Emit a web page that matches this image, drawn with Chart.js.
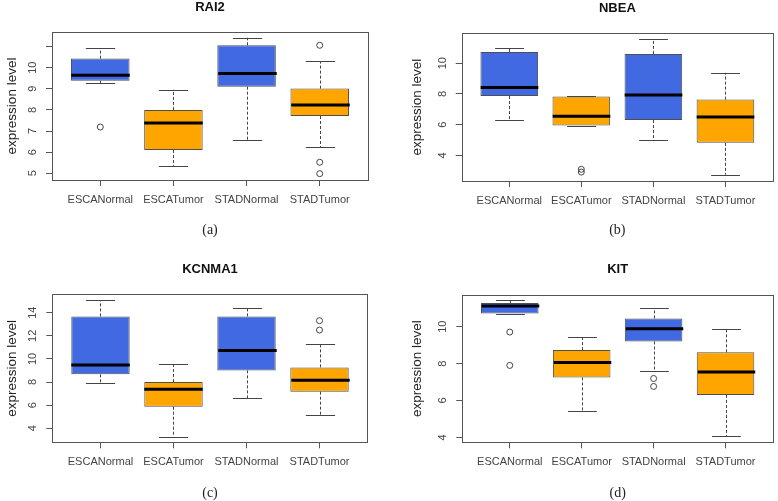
<!DOCTYPE html>
<html>
<head>
<meta charset="utf-8">
<script src="https://cdn.jsdelivr.net/npm/chart.js@4/dist/chart.umd.min.js"></script>
<style>
  body { margin: 0; background: #fff; }
  #wrap { position: relative; width: 778px; height: 501px; }
  canvas { position: absolute; }
</style>
</head>
<body>
<div id="wrap">
  <canvas id="chartA" width="389" height="250" style="left:0;top:0"></canvas>
  <canvas id="chartB" width="389" height="250" style="left:389px;top:0"></canvas>
  <canvas id="chartC" width="389" height="251" style="left:0;top:250px"></canvas>
  <canvas id="chartD" width="389" height="251" style="left:389px;top:250px"></canvas>
</div>
<script>
var categories = ['ESCANormal', 'ESCATumor', 'STADNormal', 'STADTumor'];

// RAI2
var rai2Low = [9.27, 5.33, 6.59, 6.24];
var rai2Q1 = [9.38, 6.10, 9.10, 7.71];
var rai2Median = [9.64, 7.38, 9.72, 8.23];
var rai2Q3 = [10.43, 8.00, 11.06, 9.01];
var rai2High = [10.92, 8.96, 11.42, 10.30];
var rai2Outliers = [[7.19], [], [], [11.06, 5.52, 4.98]];
var rai2Ticks = [5, 6, 7, 8, 9, 10, 11];
var rai2TickLabels = ['5', '6', '7', '8', '9', '10', ''];

// NBEA
var nbeaLow = [6.32, 5.94, 5.01, 2.75];
var nbeaQ1 = [7.86, 5.94, 6.30, 4.82];
var nbeaMedian = [8.42, 6.55, 7.93, 6.50];
var nbeaQ3 = [10.73, 7.84, 10.60, 7.63];
var nbeaHigh = [11.01, 7.84, 11.55, 9.37];
var nbeaOutliers = [[], [3.10, 2.92], [], []];
var nbeaTicks = [4, 6, 8, 10];
var nbeaTickLabels = ['4', '6', '8', '10'];

// KCNMA1
var kcnLow = [7.89, 3.28, 6.59, 5.18];
var kcnQ1 = [8.67, 5.87, 9.01, 7.17];
var kcnMedian = [9.48, 7.37, 10.74, 8.15];
var kcnQ3 = [13.68, 8.00, 13.68, 9.27];
var kcnHigh = [15.07, 9.53, 14.37, 11.32];
var kcnOutliers = [[], [], [], [13.31, 12.50]];
var kcnTicks = [4, 6, 8, 10, 12, 14];
var kcnTickLabels = ['4', '6', '8', '10', '12', '14'];

// KIT
var kitLow = [10.71, 5.45, 7.61, 4.06];
var kitQ1 = [10.71, 7.25, 9.20, 6.30];
var kitMedian = [11.12, 8.06, 9.89, 7.54];
var kitQ3 = [11.29, 8.73, 10.45, 8.61];
var kitHigh = [11.45, 9.44, 11.01, 9.89];
var kitOutliers = [[9.71, 7.90], [], [7.19, 6.76], []];
var kitTicks = [4, 6, 8, 10];
var kitTickLabels = ['4', '6', '8', '10'];

var boxColors = ['#4169e1', '#ffa500', '#4169e1', '#ffa500'];
var sans = 'Liberation Sans, Arial, sans-serif';

var panels = [
  { canvas: 'chartA', title: 'RAI2', caption: '(a)', h: 250,
    low: rai2Low, q1: rai2Q1, median: rai2Median, q3: rai2Q3, high: rai2High, outliers: rai2Outliers,
    ticks: rai2Ticks, tickLabels: rai2TickLabels, yMin: 4.68, yMax: 11.69,
    area: { left: 52, right: 368, top: 32, bottom: 180 },
    titleY: 7, labelY: 200, captionY: 230, yTitleX: 12, yLabelX: 32.5 },
  { canvas: 'chartB', title: 'NBEA', caption: '(b)', h: 250,
    low: nbeaLow, q1: nbeaQ1, median: nbeaMedian, q3: nbeaQ3, high: nbeaHigh, outliers: nbeaOutliers,
    ticks: nbeaTicks, tickLabels: nbeaTickLabels, yMin: 2.34, yMax: 11.94,
    area: { left: 72.7, right: 387.3, top: 33.3, bottom: 181 },
    titleY: 8, labelY: 201, captionY: 230, yTitleX: 28, yLabelX: 53.7 },
  { canvas: 'chartC', title: 'KCNMA1', caption: '(c)', h: 251,
    low: kcnLow, q1: kcnQ1, median: kcnMedian, q3: kcnQ3, high: kcnHigh, outliers: kcnOutliers,
    ticks: kcnTicks, tickLabels: kcnTickLabels, yMin: 2.79, yMax: 15.59,
    area: { left: 52.3, right: 367.7, top: 44.3, bottom: 192.3 },
    titleY: 19, labelY: 211.7, captionY: 243.3, yTitleX: 12, yLabelX: 33 },
  { canvas: 'chartD', title: 'KIT', caption: '(d)', h: 251,
    low: kitLow, q1: kitQ1, median: kitMedian, q3: kitQ3, high: kitHigh, outliers: kitOutliers,
    ticks: kitTicks, tickLabels: kitTickLabels, yMin: 3.73, yMax: 11.72,
    area: { left: 73.3, right: 387.3, top: 45, bottom: 192.3 },
    titleY: 19, labelY: 211.7, captionY: 243.3, yTitleX: 28, yLabelX: 53.7 }
];

function line(ctx, x1, y1, x2, y2) {
  ctx.beginPath();
  ctx.moveTo(x1, y1);
  ctx.lineTo(x2, y2);
  ctx.stroke();
}

// whiskers, caps, medians, frame and the R-style texts
function boxExtras(p) {
  return {
    id: 'boxExtras',
    afterDatasetsDraw: function(chart) {
      var ctx = chart.ctx, xs = chart.scales.x, ys = chart.scales.y;
      var bars = chart.getDatasetMeta(0).data;
      ctx.save();
      categories.forEach(function(c, i) {
        var x = Math.round(xs.getPixelForValue(i + 1)) + 0.5;
        var w = bars[i].width;
        var yLow = ys.getPixelForValue(p.low[i]);
        var yQ1 = ys.getPixelForValue(p.q1[i]);
        var yMed = ys.getPixelForValue(p.median[i]);
        var yQ3 = ys.getPixelForValue(p.q3[i]);
        var yHigh = ys.getPixelForValue(p.high[i]);
        ctx.strokeStyle = '#444';
        ctx.lineWidth = 1;
        ctx.setLineDash([3, 2]);
        if (yHigh < yQ3) line(ctx, x, yQ3, x, yHigh);
        if (yLow > yQ1) line(ctx, x, yQ1, x, yLow);
        ctx.setLineDash([]);
        line(ctx, x - w / 4, Math.round(yHigh) + 0.5, x + w / 4, Math.round(yHigh) + 0.5);
        line(ctx, x - w / 4, Math.round(yLow) + 0.5, x + w / 4, Math.round(yLow) + 0.5);
        ctx.strokeStyle = '#000';
        ctx.lineWidth = 3;
        line(ctx, x - w / 2, yMed, x + w / 2, yMed);
      });
      ctx.restore();
    },
    afterDraw: function(chart) {
      var ctx = chart.ctx, a = chart.chartArea, ys = chart.scales.y;
      ctx.save();
      ctx.strokeStyle = '#555';
      ctx.lineWidth = 1;
      ctx.strokeRect(Math.round(a.left) + 0.5, Math.round(a.top) + 0.5,
        Math.round(a.right - a.left), Math.round(a.bottom - a.top));
      ctx.fillStyle = '#111';
      ctx.font = 'bold 13px ' + sans;
      ctx.textAlign = 'center';
      ctx.textBaseline = 'middle';
      ctx.fillText(p.title, (a.left + a.right) / 2, p.titleY);
      ctx.fillStyle = '#444';
      ctx.font = '11px ' + sans;
      p.ticks.forEach(function(v, i) {
        ctx.save();
        ctx.translate(p.yLabelX, ys.getPixelForValue(v));
        ctx.rotate(-Math.PI / 2);
        ctx.fillText(p.tickLabels[i], 0, 0);
        ctx.restore();
      });
      ctx.restore();
    }
  };
}

panels.forEach(function(p) {
  var W = 389;
  var outlierPoints = [];
  p.outliers.forEach(function(arr, i) {
    arr.forEach(function(v) { outlierPoints.push({ x: i + 1, y: v }); });
  });
  new Chart(document.getElementById(p.canvas), {
    type: 'bar',
    data: {
      datasets: [{
        data: categories.map(function(c, i) { return { x: i + 1, y: [p.q1[i], p.q3[i]] }; }),
        backgroundColor: boxColors,
        borderColor: 'rgba(35,35,35,0.8)',
        borderWidth: 1,
        borderSkipped: false,
        barPercentage: 0.8,
        categoryPercentage: 1
      }, {
        type: 'scatter',
        data: outlierPoints,
        pointStyle: 'circle',
        pointRadius: 3,
        backgroundColor: 'rgba(255,255,255,0)',
        borderColor: '#444',
        borderWidth: 1
      }]
    },
    options: {
      responsive: false,
      animation: false,
      events: [],
      layout: { padding: { left: 0, top: p.area.top, right: W - p.area.right, bottom: 0 } },
      plugins: { legend: { display: false }, tooltip: { enabled: false } },
      scales: {
        x: {
          type: 'linear',
          min: 0.34,
          max: 4.66,
          offset: false,
          afterBuildTicks: function(s) { s.ticks = categories.map(function(c, i) { return { value: i + 1 }; }); },
          afterFit: function(s) { s.height = p.h - p.area.bottom; },
          ticks: {
            autoSkip: false,
            maxRotation: 0,
            padding: p.labelY - p.area.bottom - 6 - 6.6,
            color: '#444',
            font: { family: sans, size: 11 },
            callback: function(v, i) { return categories[i]; }
          },
          grid: { display: true, offset: false, drawOnChartArea: false, drawTicks: true, tickLength: 6, color: '#555' },
          border: { display: false },
          title: {
            display: true,
            text: p.caption,
            color: '#222',
            font: { family: 'Liberation Serif, Times New Roman, serif', size: 14 },
            padding: { top: 0, bottom: p.h - p.captionY - 8.4 }
          }
        },
        y: {
          min: p.yMin,
          max: p.yMax,
          beginAtZero: false,
          afterBuildTicks: function(s) { s.ticks = p.ticks.map(function(v) { return { value: v }; }); },
          afterFit: function(s) { s.width = p.area.left; },
          ticks: { display: false },
          grid: { display: true, drawOnChartArea: false, drawTicks: true, tickLength: 6, color: '#555' },
          border: { display: false },
          title: {
            display: true,
            text: 'expression level',
            color: '#222',
            font: { family: sans, size: 13.5 },
            padding: { top: p.yTitleX - 8.1, bottom: 0 }
          }
        }
      }
    },
    plugins: [boxExtras(p)]
  });
});
</script>
</body>
</html>
